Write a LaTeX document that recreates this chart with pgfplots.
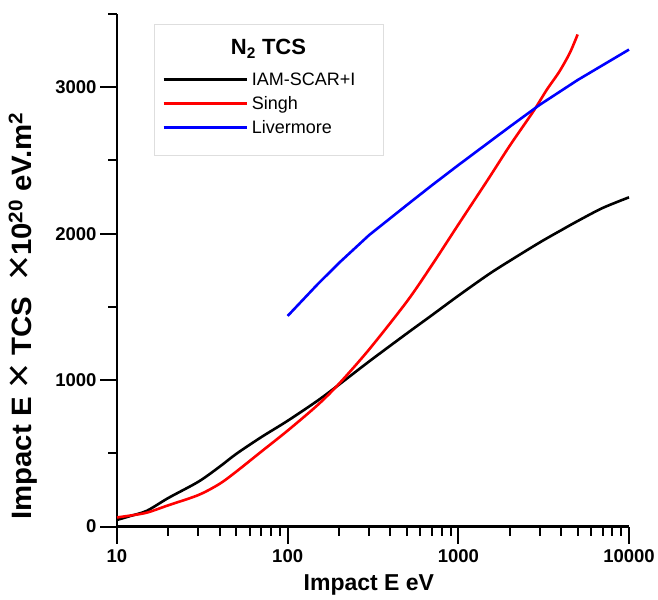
\documentclass[border=0pt]{standalone}
\usepackage{fontspec}
\setmainfont{Liberation Sans}
\usepackage{pgfplots}
\pgfplotsset{compat=1.18}
\newcommand{\es}{\rule[-4bp]{0pt}{14bp}}
\newcommand{\tms}{\raisebox{-0.05em}{\scalebox{1.45}{\mdseries ×}}}
\begin{document}
\begin{tikzpicture}
\begin{axis}[
  at={(0,0)}, anchor=south west,
  scale only axis, width=512bp, height=512.5bp,
  xmode=log, xmin=10, xmax=10000, ymin=0, ymax=3500,
  axis x line*=bottom, axis y line*=left,
  axis line style={-, line width=2.2bp},
  tick align=outside,
  major tick length=17bp, minor tick length=9bp,
  every tick/.style={black, line width=2bp},
  xtick={10,100,1000,10000}, xticklabels={10,100,1000,10000},
  ytick={0,1000,2000,3000}, yticklabels={0,1000,2000,3000},
  minor ytick={500,1500,2500,3500},
  ticklabel style={font=\fontsize{18.5bp}{20bp}\selectfont\bfseries},
  xticklabel style={yshift=-3bp},
  /pgf/number format/assume math mode=true,
  xlabel={Impact E eV},
  xlabel style={font=\fontsize{23bp}{26bp}\selectfont\bfseries, at={(axis description cs:0.492,-0.124)}, anchor=base},
  ylabel={\scalebox{1.05}[1]{Impact E \tms\ TCS\ \ \tms10\textsuperscript{20} eV.m\textsuperscript{2}}},
  ylabel style={font=\fontsize{28bp}{30bp}\selectfont\bfseries, at={(axis description cs:-0.1836,0.411)}, anchor=center},
  legend cell align=left,
  legend style={at={(axis description cs:0.0879,0.8859)}, anchor=north west,
    draw=none, fill=none,
    font=\fontsize{18bp}{20bp}\selectfont,
    nodes={inner sep=0pt},
    inner sep=0pt, row sep=9.5bp, column sep=4bp},
  legend image code/.code={\draw[#1, line width=2.6bp] (0bp,0bp) -- (83bp,0bp);},
  clip=false,
]
\draw[black!13, line width=0.7bp] (axis description cs:0.0723,0.980) rectangle (axis description cs:0.5195,0.7249);
\node[font=\fontsize{22bp}{24bp}\selectfont\bfseries, anchor=base] at (axis description cs:0.2959,0.921) {N\textsubscript{2} TCS};
\addlegendimage{black, line width=2.6bp}
\addlegendimage{red, line width=2.6bp}
\addlegendimage{blue, line width=2.6bp}
\addlegendentry{IAM-SCAR+I\es}
\addlegendentry{Singh\es}
\addlegendentry{Livermore\es}
\addplot[black, line width=2.6bp, smooth, forget plot] coordinates {
(10,45) (12,72) (15,108) (20,195) (30,306) (40,409) (50,496) (70,610) (100,722) (150,860) (200,969) (300,1127) (500,1319) (700,1443) (1000,1576) (1500,1721) (2000,1814) (3000,1940) (4000,2023) (5000,2086) (7000,2175) (10000,2248)};
\addplot[red, line width=2.6bp, smooth, forget plot] coordinates {
(10,62) (12,75) (15,95) (20,145) (30,215) (40,292) (50,375) (70,511) (100,655) (150,830) (200,975) (300,1209) (500,1537) (700,1785) (1000,2062) (1500,2374) (2000,2600) (2750,2835) (3300,2983) (3900,3105) (4500,3234) (5000,3360)};
\addplot[blue, line width=2.6bp, forget plot] coordinates {
(100,1438) (150,1655) (200,1800) (300,1990) (500,2196) (700,2330) (1000,2468) (2000,2730) (3000,2880) (5000,3049) (7000,3150) (10000,3257)};
\end{axis}
\pgfresetboundingbox
\path[use as bounding box] (-117bp,-73.5bp) rectangle (541bp,526.5bp);
\end{tikzpicture}
\end{document}
